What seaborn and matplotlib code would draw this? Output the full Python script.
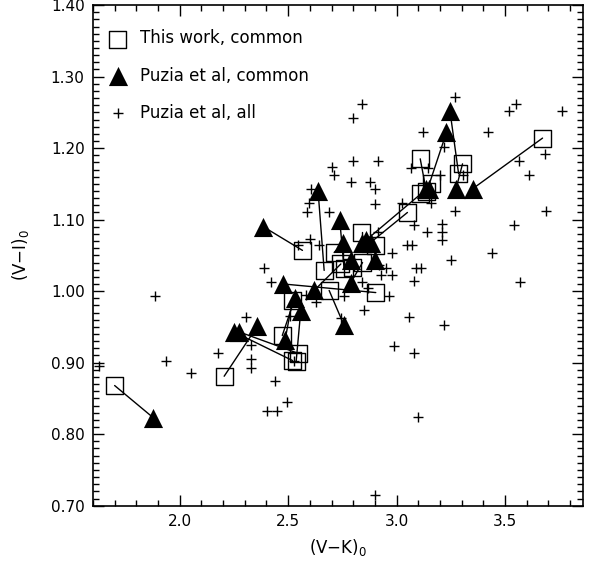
import numpy as np
import pandas as pd
import seaborn as sns
import matplotlib.pyplot as plt
from matplotlib.ticker import MultipleLocator, FormatStrFormatter

# this work, common clusters (open squares)
this_vk = [1.70, 2.205, 2.52, 2.546, 2.52, 2.473, 2.537, 2.566, 2.666, 2.904,
           2.689, 2.743, 2.758, 2.712, 2.797, 2.843, 2.84, 3.112, 3.05, 2.904,
           3.109, 3.14, 3.16, 3.286, 3.304, 3.673]
this_vi = [0.868, 0.881, 0.903, 0.913, 0.987, 0.938, 0.902, 1.057, 1.029, 0.998,
           1.001, 1.038, 1.031, 1.054, 1.033, 1.040, 1.082, 1.136, 1.110, 1.064,
           1.185, 1.140, 1.150, 1.164, 1.178, 1.214]

# Puzia et al, common clusters (filled triangles), same order as above
puz_vk = [1.878, 2.358, 2.25, 2.274, 2.486, 2.532, 2.558, 2.386, 2.638, 2.478,
          2.758, 2.62, 2.738, 2.754, 2.789, 2.789, 2.84, 2.858, 2.88, 2.90,
          3.135, 3.23, 3.15, 3.246, 3.274, 3.35]
puz_vi = [0.823, 0.951, 0.943, 0.943, 0.932, 0.991, 0.972, 1.090, 1.140, 1.010,
          0.952, 1.001, 1.099, 1.068, 1.043, 1.012, 1.068, 1.071, 1.068, 1.043,
          1.143, 1.222, 1.143, 1.252, 1.143, 1.143]

# Puzia et al, all clusters (plus signs)
all_vk = [1.627, 1.886, 1.938, 2.05, 2.178, 2.307, 2.328, 2.328, 2.328, 2.389,
          2.42, 2.44, 2.404, 2.45, 2.497, 2.51, 2.528, 2.547, 2.581, 2.589,
          2.597, 2.60, 2.605, 2.628, 2.64, 2.689, 2.70, 2.712, 2.743, 2.758,
          2.789, 2.80, 2.80, 2.84, 2.84, 2.85, 2.866, 2.878, 2.90, 2.90,
          2.90, 2.912, 2.912, 2.92, 2.927, 2.95, 2.963, 2.978, 2.978, 2.989,
          3.027, 3.05, 3.07, 3.058, 3.066, 3.081, 3.081, 3.081, 3.09, 3.10,
          3.112, 3.12, 3.14, 3.143, 3.16, 3.20, 3.21, 3.21, 3.21, 3.22,
          3.22, 3.25, 3.27, 3.27, 3.304, 3.42, 3.44, 3.52, 3.55, 3.54,
          3.563, 3.57, 3.61, 3.685, 3.689, 3.763]
all_vi = [0.895, 0.993, 0.903, 0.885, 0.913, 0.964, 0.924, 0.905, 0.893, 1.032,
          1.013, 0.874, 0.833, 0.833, 0.845, 0.965, 0.903, 1.064, 0.994, 1.111,
          1.123, 1.073, 1.143, 0.985, 1.064, 1.111, 1.173, 1.163, 0.962, 0.993,
          1.152, 1.182, 1.242, 1.261, 1.013, 0.974, 1.005, 1.152, 1.143, 1.122,
          0.715, 1.182, 1.082, 1.036, 1.023, 1.032, 0.993, 1.023, 1.053, 0.923,
          1.123, 1.064, 1.064, 0.964, 1.172, 1.093, 1.014, 0.914, 1.032, 0.824,
          1.032, 1.222, 1.083, 1.172, 1.123, 1.162, 1.094, 1.083, 1.072, 1.201,
          0.953, 1.043, 1.272, 1.112, 1.163, 1.222, 1.053, 1.252, 1.262, 1.092,
          1.182, 1.013, 1.163, 1.192, 1.112, 1.252]

sns.set_style('ticks')
plt.rcParams['font.family'] = ['DejaVu Sans']
plt.rcParams['mathtext.default'] = 'regular'
plt.rcParams['text.color'] = 'black'
plt.rcParams['axes.labelcolor'] = 'black'

fig = plt.figure(figsize=(5.92, 5.65), dpi=100)
ax = fig.add_axes([0.157, 0.105, 0.828, 0.886])

# connecting lines between the two measurements of each cluster
for x1, y1, x2, y2 in zip(this_vk, this_vi, puz_vk, puz_vi):
    ax.plot([x1, x2], [y1, y2], color='black', lw=1.0, zorder=1)

sns.scatterplot(x=this_vk, y=this_vi, marker='s', s=150, facecolor='none',
                edgecolor='black', linewidth=1.0, ax=ax, zorder=2,
                label='This work, common')
sns.scatterplot(x=puz_vk, y=puz_vi, marker='^', s=190, color='black',
                edgecolor='black', linewidth=0, ax=ax, zorder=3,
                label='Puzia et al, common')
sns.scatterplot(x=all_vk, y=all_vi, marker='+', s=55, color='black',
                linewidth=1.0, ax=ax, zorder=4, label='Puzia et al, all')

ax.set_xlim(1.6, 3.86)
ax.set_ylim(0.70, 1.40)
ax.xaxis.set_major_locator(MultipleLocator(0.5))
ax.xaxis.set_minor_locator(MultipleLocator(0.1))
ax.yaxis.set_major_locator(MultipleLocator(0.1))
ax.yaxis.set_minor_locator(MultipleLocator(0.01))
ax.xaxis.set_major_formatter(FormatStrFormatter('%.1f'))
ax.yaxis.set_major_formatter(FormatStrFormatter('%.2f'))
ax.tick_params(which='both', direction='in', top=True, right=True,
               labelsize=11, width=1, colors='black')
ax.tick_params(which='major', length=8, pad=6)
ax.tick_params(which='minor', length=4)
for sp in ax.spines.values():
    sp.set_linewidth(1.2)
    sp.set_color('black')

ax.set_xlabel(r'(V$-$K)$_0$', fontsize=12, labelpad=6)
ax.set_ylabel(r'(V$-$I)$_0$', fontsize=12, labelpad=14)

leg = ax.legend(loc='upper left', frameon=False, fontsize=12,
                labelspacing=1.15, handletextpad=0.35, borderaxespad=0.1,
                bbox_to_anchor=(0.0, 0.968))
for t in leg.get_texts():
    t.set_color('black')

fig.savefig('out.png', dpi=100)
